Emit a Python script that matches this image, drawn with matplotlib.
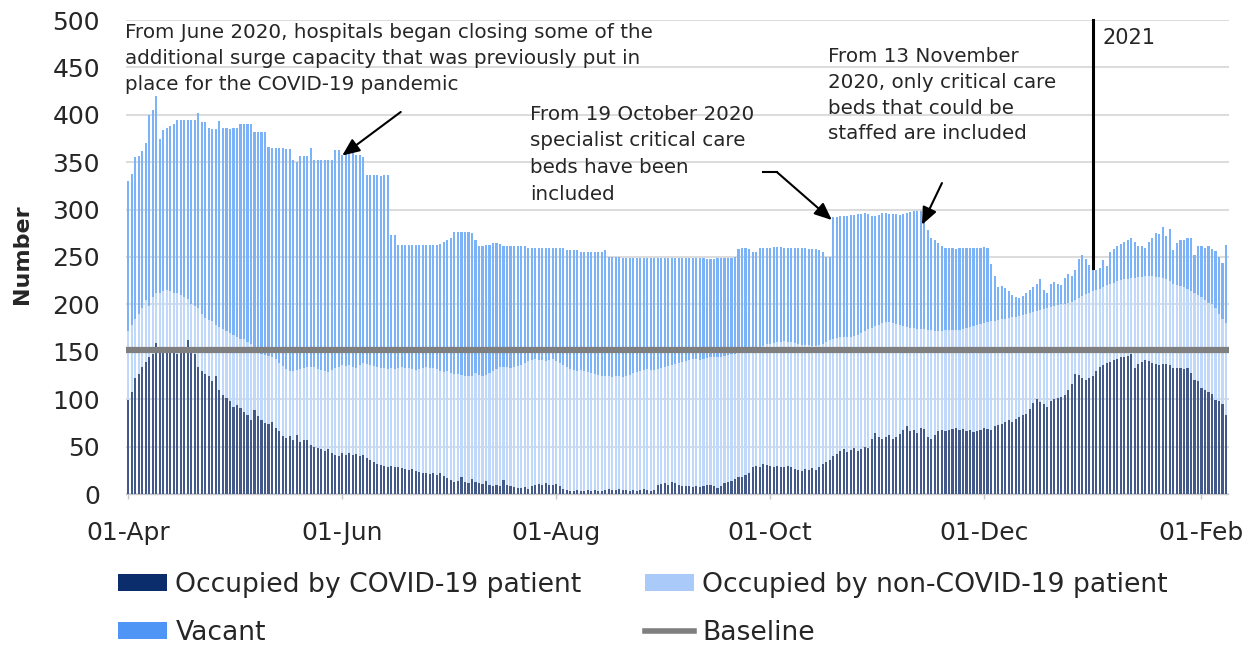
import numpy as np
import matplotlib
matplotlib.use('Agg')
import matplotlib.pyplot as plt
from matplotlib.patches import Patch
from matplotlib.lines import Line2D

W, H = 1257, 647
plt.rcParams['font.family'] = ['DejaVu Sans']

# ---------------- data (daily, starting 01-Apr-2020) ----------------
# total critical care beds available (top of each bar)
capacity = [
    330, 338, 355, 357, 362, 370, 400, 405, 420, 375,
    384, 386, 388, 390, 395, 395, 395, 395, 395, 395,
    402, 392, 392, 386, 385, 385, 393, 386, 386, 385,
    386, 386, 390, 390, 390, 390, 382, 382, 382, 382,
    366, 365, 365, 365, 365, 364, 364, 352, 350, 357,
    357, 357, 365, 352, 352, 352, 352, 352, 352, 363,
    363, 358, 360, 360, 360, 358, 358, 355, 336, 336,
    336, 336, 335, 336, 336, 273, 273, 263, 263, 263,
    263, 263, 263, 263, 263, 263, 263, 263, 263, 264,
    266, 268, 270, 276, 276, 276, 276, 276, 275, 268,
    262, 262, 263, 263, 265, 265, 264, 262, 262, 262,
    262, 262, 262, 262, 260, 259, 259, 259, 259, 259,
    259, 259, 259, 259, 259, 257, 257, 257, 257, 255,
    255, 255, 255, 255, 255, 255, 257, 250, 250, 250,
    250, 249, 249, 249, 249, 249, 249, 249, 249, 249,
    249, 249, 249, 249, 249, 249, 249, 249, 249, 249,
    249, 249, 249, 249, 249, 248, 248, 248, 249, 249,
    249, 249, 249, 250, 258, 259, 259, 258, 255, 255,
    260, 260, 260, 260, 261, 261, 261, 260, 259, 259,
    259, 259, 259, 259, 258, 258, 258, 257, 255, 250,
    250, 292, 292, 293, 293, 293, 294, 294, 295, 295,
    296, 295, 293, 293, 294, 296, 296, 295, 295, 295,
    294, 295, 296, 297, 298, 298, 298, 290, 278, 270,
    268, 265, 262, 260, 259, 259, 258, 260, 259, 259,
    259, 260, 260, 259, 261, 259, 243, 230, 218, 219,
    217, 214, 210, 208, 207, 209, 212, 215, 218, 222,
    227, 215, 212, 222, 224, 222, 220, 228, 232, 230,
    236, 248, 252, 248, 242, 238, 236, 238, 247, 240,
    255, 258, 262, 264, 266, 268, 270, 266, 262, 262,
    260, 266, 270, 275, 274, 282, 272, 280, 257, 265,
    268, 268, 270, 270, 252, 262, 262, 260, 262, 258,
    256, 250, 244, 263,
]
# occupied beds (COVID-19 + non-COVID-19 patients)
occupied = [
    172, 178, 185, 190, 196, 205, 198, 208, 212, 212,
    214, 215, 214, 212, 212, 210, 208, 206, 200, 198,
    196, 190, 186, 184, 182, 178, 176, 174, 172, 170,
    168, 166, 164, 163, 160, 158, 152, 150, 148, 147,
    146, 144, 142, 138, 135, 132, 130, 130, 131, 132,
    133, 134, 134, 134, 132, 131, 130, 129, 131, 133,
    134, 136, 135, 136, 134, 133, 136, 138, 137, 136,
    135, 134, 133, 133, 132, 133, 132, 133, 134, 133,
    133, 132, 131, 132, 133, 134, 133, 133, 132, 130,
    129, 130, 128, 127, 127, 126, 125, 124, 125, 128,
    126, 125, 126, 128, 130, 132, 134, 134, 134, 133,
    134, 135, 136, 138, 140, 141, 142, 141, 141, 140,
    141, 142, 140, 138, 136, 134, 132, 131, 130, 131,
    130, 129, 128, 127, 126, 125, 124, 124, 123, 124,
    124, 123, 125, 126, 128, 129, 130, 131, 132, 131,
    131, 132, 133, 134, 135, 136, 137, 138, 139, 140,
    141, 142, 142, 141, 142, 143, 144, 144, 145, 145,
    146, 147, 148, 148, 149, 150, 151, 152, 153, 154,
    155, 156, 158, 158, 159, 160, 160, 161, 160, 160,
    159, 158, 157, 157, 157, 156, 156, 157, 158, 160,
    162, 164, 165, 166, 166, 166, 166, 167, 168, 170,
    172, 174, 175, 177, 178, 180, 181, 181, 180, 179,
    178, 177, 176, 175, 175, 174, 174, 174, 173, 173,
    172, 172, 172, 173, 173, 173, 173, 173, 174, 175,
    176, 177, 178, 179, 180, 181, 182, 183, 184, 185,
    185, 186, 187, 187, 188, 189, 190, 191, 192, 193,
    194, 195, 196, 197, 198, 199, 200, 200, 201, 203,
    205, 207, 209, 211, 212, 214, 215, 216, 218, 220,
    222, 223, 225, 226, 227, 227, 228, 228, 229, 229,
    230, 230, 230, 229, 229, 228, 227, 225, 222, 220,
    219, 218, 216, 214, 212, 210, 208, 205, 202, 200,
    196, 190, 185, 180,
]
# beds occupied by COVID-19 patients
covid = [
    99, 108, 122, 127, 134, 139, 145, 148, 159, 152,
    150, 150, 149, 149, 148, 150, 151, 162, 155, 148,
    134, 130, 127, 124, 119, 124, 110, 104, 101, 98,
    92, 94, 91, 87, 83, 78, 89, 82, 78, 75,
    74, 76, 70, 66, 61, 59, 61, 57, 62, 55,
    57, 57, 52, 50, 48, 47, 45, 47, 43, 41,
    40, 43, 41, 43, 41, 42, 40, 41, 38, 36,
    34, 32, 31, 30, 29, 30, 28, 28, 27, 26,
    25, 26, 24, 23, 22, 22, 21, 22, 20, 22,
    19, 17, 15, 13, 14, 18, 13, 12, 16, 13,
    12, 11, 14, 9, 8, 10, 8, 15, 9, 8,
    7, 6, 6, 7, 5, 8, 10, 11, 10, 12,
    10, 9, 11, 8, 5, 4, 3, 3, 4, 3,
    3, 4, 3, 4, 3, 3, 4, 5, 4, 4,
    5, 4, 4, 3, 4, 3, 4, 5, 4, 3,
    4, 9, 11, 12, 10, 13, 12, 9, 8, 8,
    8, 7, 8, 7, 8, 10, 9, 8, 6, 8,
    12, 13, 14, 16, 18, 18, 20, 22, 28, 30,
    29, 32, 31, 30, 29, 30, 29, 28, 30, 28,
    26, 25, 24, 26, 25, 27, 25, 28, 32, 34,
    36, 40, 42, 45, 47, 44, 46, 48, 45, 47,
    50, 48, 58, 64, 60, 58, 60, 62, 58, 60,
    63, 68, 72, 66, 67, 64, 70, 69, 60, 58,
    62, 66, 68, 66, 67, 69, 70, 68, 69, 66,
    67, 65, 66, 68, 70, 69, 68, 72, 73, 74,
    76, 78, 76, 79, 81, 83, 84, 90, 96, 100,
    97, 95, 92, 98, 100, 101, 102, 104, 110, 116,
    127, 126, 122, 120, 122, 124, 130, 134, 136, 138,
    139, 141, 142, 144, 145, 146, 148, 133, 137, 139,
    141, 140, 138, 137, 136, 137, 137, 136, 133, 133,
    133, 132, 133, 128, 120, 119, 112, 110, 108, 106,
    99, 98, 95, 83,
]
baseline = 152

tick_days = [0, 61, 122, 183, 244, 306]
tick_labels = ['01-Apr', '01-Jun', '01-Aug', '01-Oct', '01-Dec', '01-Feb']
y_ticks = list(range(0, 501, 50))
legend_labels = ['Occupied by COVID-19 patient', 'Occupied by non-COVID-19 patient',
                 'Vacant', 'Baseline']

# ---------------- styling ----------------
# legend (true) colours
C_COV = '#0c2d6b'
C_NON = '#aacbfa'
C_VAC = '#4f95f5'
# bar colours as they appear in the (soft, striped) reference rendering
B_COV = '#42598a'
B_NON = '#c0d9fb'
B_VAC = '#7cb2f7'
C_BASE = '#7f7f7f'
TXT = '#262626'

x = np.arange(len(capacity))

fig = plt.figure(figsize=(W / 100, H / 100), dpi=100)
ax = fig.add_axes([126.5 / W, 1 - 494 / H, (1228.5 - 126.5) / W, (494 - 20) / H])

bw = 0.6
ax.bar(x, capacity, width=bw, color=B_VAC, linewidth=0, zorder=2)
ax.bar(x, occupied, width=bw, color=B_NON, linewidth=0, zorder=3)
ax.bar(x, covid, width=bw, color=B_COV, linewidth=0, zorder=4)
ax.axhline(baseline, color=C_BASE, lw=4.5, zorder=5)

ax.set_xlim(-0.5, 313.7)
ax.set_ylim(0, 500)
ax.set_yticks(y_ticks)
ax.set_xticks(tick_days)
ax.set_xticklabels(tick_labels)
ax.yaxis.grid(True, color='#d9d9d9', lw=1.3, zorder=0)
ax.set_axisbelow(True)
for s in ['top', 'right', 'left']:
    ax.spines[s].set_visible(False)
ax.spines['bottom'].set_color('#c8c8c8')
ax.spines['bottom'].set_linewidth(1.0)
ax.tick_params(axis='y', length=0, pad=19, labelsize=18, labelcolor=TXT)
ax.tick_params(axis='x', length=3.6, width=1, color='#c8c8c8', pad=16,
               labelsize=18, labelcolor=TXT)

fig.text(22 / W, 1 - 254 / H, 'Number', rotation=90, ha='center', va='center',
         fontsize=16, fontweight='bold', color=TXT)

# ---------------- annotations ----------------
ann_kw = dict(fontsize=14.3, color=TXT, ha='left', va='top', linespacing=1.45)
fig.text(125 / W, 1 - 23 / H,
         'From June 2020, hospitals began closing some of the\n'
         'additional surge capacity that was previously put in\n'
         'place for the COVID-19 pandemic', **ann_kw)
fig.text(530 / W, 1 - 105 / H,
         'From 19 October 2020\nspecialist critical care\nbeds have been\nincluded',
         **dict(ann_kw, linespacing=1.5))
fig.text(828 / W, 1 - 47 / H,
         'From 13 November\n2020, only critical care\nbeds that could be\nstaffed are included',
         **ann_kw)

arrow_kw = dict(arrowstyle='-|>,head_length=0.7,head_width=0.3', color='black',
                lw=1.5, mutation_scale=15, shrinkA=0, shrinkB=0)
ax.annotate('', xy=(61, 357), xytext=(77.7, 403), arrowprops=arrow_kw, zorder=6)
ax.plot([181.1, 184.9], [339.7, 339.7], color='black', lw=1.5, zorder=6, clip_on=False)
ax.annotate('', xy=(200.6, 289), xytext=(184.9, 339.7), arrowprops=arrow_kw, zorder=6)
ax.annotate('', xy=(226.3, 284), xytext=(232, 328), arrowprops=arrow_kw, zorder=6)

ax.plot([275, 275], [238, 500], color='black', lw=2.2, zorder=6, clip_on=False)
fig.text(1102 / W, 1 - 28 / H, '2021', fontsize=15, color=TXT, ha='left', va='top')

# ---------------- legend ----------------
handles = [Patch(facecolor=C_COV), Patch(facecolor=C_NON), Patch(facecolor=C_VAC),
           Line2D([0], [0], color=C_BASE, lw=4)]
positions = [(118, 585), (645, 585), (118, 633), (645, 633)]
for h, lab, (px, py) in zip(handles, legend_labels, positions):
    fig.legend([h], [lab], loc='center left', bbox_to_anchor=(px / W, 1 - py / H),
               frameon=False, borderpad=0, borderaxespad=0, handlelength=1.85,
               handleheight=0.6, handletextpad=0.3, fontsize=19.2,
               labelcolor=TXT)

fig.savefig('out.png', dpi=100)
